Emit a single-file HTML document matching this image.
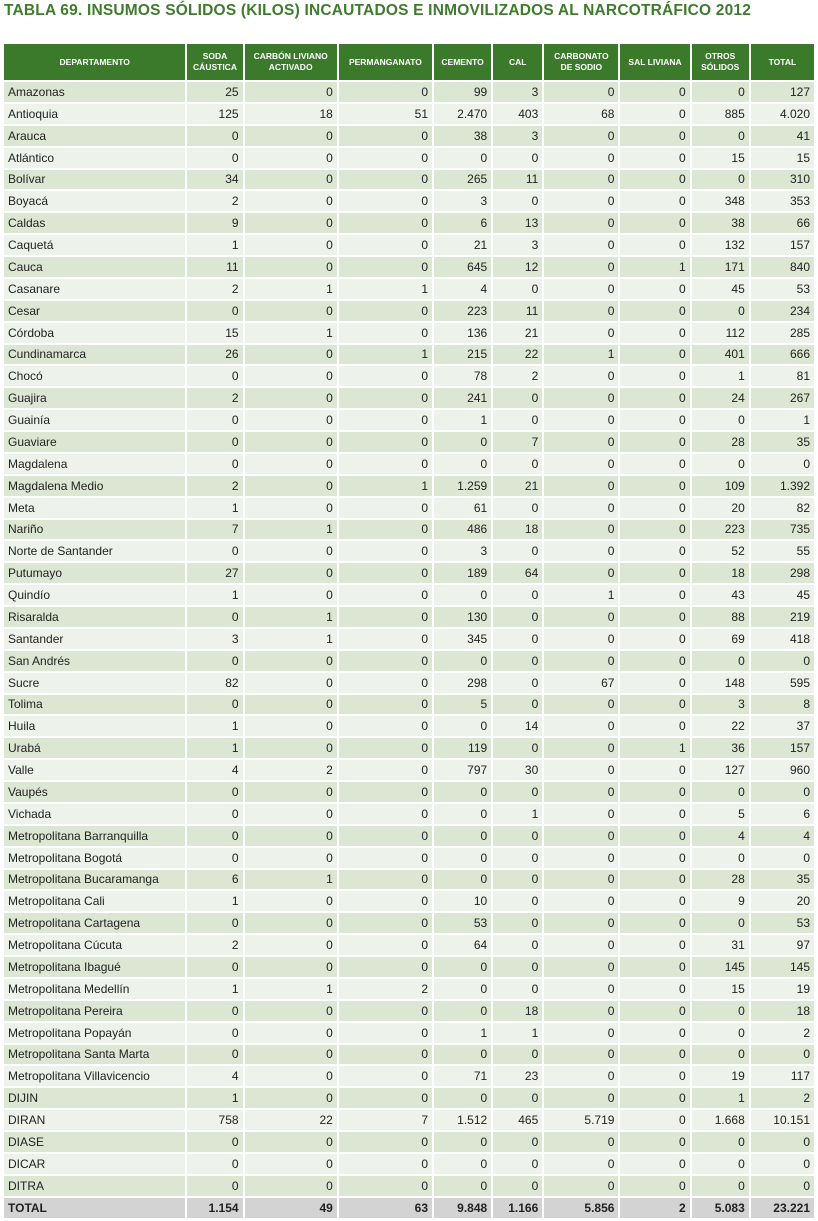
<!DOCTYPE html>
<html><head><meta charset="utf-8"><style>
body{margin:0;width:818px;height:1221px;background:#fff;overflow:hidden;font-family:"Liberation Sans",sans-serif;}
h1{position:absolute;left:4px;top:2px;margin:0;font-size:15.5px;color:#3f7b2c;font-weight:bold;letter-spacing:0.2px;}
table{position:absolute;left:2px;top:42px;border-collapse:separate;border-spacing:2px;table-layout:fixed;width:814px;}
th{background:#3a7a2a;color:#fff;font-size:8.5px;font-weight:bold;height:36px;padding:0;text-align:center;line-height:11px;}
td{height:19.88px;padding:0 4px;font-size:12px;color:#222;text-align:right;white-space:nowrap;overflow:hidden;}
td:first-child{text-align:left;}
tr:nth-child(odd) td{background:#dce7d3;}
tr:nth-child(even) td{background:#edf2ea;}
tr.tot td{background:#d3d3d3;font-weight:bold;}
</style></head><body>
<h1>TABLA 69. INSUMOS SÓLIDOS (KILOS) INCAUTADOS E INMOVILIZADOS AL NARCOTRÁFICO 2012</h1>
<table>
<colgroup><col style="width:181px"><col style="width:55px"><col style="width:92px"><col style="width:93px"><col style="width:57px"><col style="width:49px"><col style="width:74px"><col style="width:69px"><col style="width:57px"><col style="width:63px"></colgroup>
<thead><tr><th>DEPARTAMENTO</th><th>SODA<br>CÁUSTICA</th><th>CARBÓN LIVIANO<br>ACTIVADO</th><th>PERMANGANATO</th><th>CEMENTO</th><th>CAL</th><th>CARBONATO<br>DE SODIO</th><th>SAL LIVIANA</th><th>OTROS<br>SÓLIDOS</th><th>TOTAL</th></tr></thead>
<tbody>
<tr><td>Amazonas</td><td>25</td><td>0</td><td>0</td><td>99</td><td>3</td><td>0</td><td>0</td><td>0</td><td>127</td></tr>
<tr><td>Antioquia</td><td>125</td><td>18</td><td>51</td><td>2.470</td><td>403</td><td>68</td><td>0</td><td>885</td><td>4.020</td></tr>
<tr><td>Arauca</td><td>0</td><td>0</td><td>0</td><td>38</td><td>3</td><td>0</td><td>0</td><td>0</td><td>41</td></tr>
<tr><td>Atlántico</td><td>0</td><td>0</td><td>0</td><td>0</td><td>0</td><td>0</td><td>0</td><td>15</td><td>15</td></tr>
<tr><td>Bolívar</td><td>34</td><td>0</td><td>0</td><td>265</td><td>11</td><td>0</td><td>0</td><td>0</td><td>310</td></tr>
<tr><td>Boyacá</td><td>2</td><td>0</td><td>0</td><td>3</td><td>0</td><td>0</td><td>0</td><td>348</td><td>353</td></tr>
<tr><td>Caldas</td><td>9</td><td>0</td><td>0</td><td>6</td><td>13</td><td>0</td><td>0</td><td>38</td><td>66</td></tr>
<tr><td>Caquetá</td><td>1</td><td>0</td><td>0</td><td>21</td><td>3</td><td>0</td><td>0</td><td>132</td><td>157</td></tr>
<tr><td>Cauca</td><td>11</td><td>0</td><td>0</td><td>645</td><td>12</td><td>0</td><td>1</td><td>171</td><td>840</td></tr>
<tr><td>Casanare</td><td>2</td><td>1</td><td>1</td><td>4</td><td>0</td><td>0</td><td>0</td><td>45</td><td>53</td></tr>
<tr><td>Cesar</td><td>0</td><td>0</td><td>0</td><td>223</td><td>11</td><td>0</td><td>0</td><td>0</td><td>234</td></tr>
<tr><td>Córdoba</td><td>15</td><td>1</td><td>0</td><td>136</td><td>21</td><td>0</td><td>0</td><td>112</td><td>285</td></tr>
<tr><td>Cundinamarca</td><td>26</td><td>0</td><td>1</td><td>215</td><td>22</td><td>1</td><td>0</td><td>401</td><td>666</td></tr>
<tr><td>Chocó</td><td>0</td><td>0</td><td>0</td><td>78</td><td>2</td><td>0</td><td>0</td><td>1</td><td>81</td></tr>
<tr><td>Guajira</td><td>2</td><td>0</td><td>0</td><td>241</td><td>0</td><td>0</td><td>0</td><td>24</td><td>267</td></tr>
<tr><td>Guainía</td><td>0</td><td>0</td><td>0</td><td>1</td><td>0</td><td>0</td><td>0</td><td>0</td><td>1</td></tr>
<tr><td>Guaviare</td><td>0</td><td>0</td><td>0</td><td>0</td><td>7</td><td>0</td><td>0</td><td>28</td><td>35</td></tr>
<tr><td>Magdalena</td><td>0</td><td>0</td><td>0</td><td>0</td><td>0</td><td>0</td><td>0</td><td>0</td><td>0</td></tr>
<tr><td>Magdalena Medio</td><td>2</td><td>0</td><td>1</td><td>1.259</td><td>21</td><td>0</td><td>0</td><td>109</td><td>1.392</td></tr>
<tr><td>Meta</td><td>1</td><td>0</td><td>0</td><td>61</td><td>0</td><td>0</td><td>0</td><td>20</td><td>82</td></tr>
<tr><td>Nariño</td><td>7</td><td>1</td><td>0</td><td>486</td><td>18</td><td>0</td><td>0</td><td>223</td><td>735</td></tr>
<tr><td>Norte de Santander</td><td>0</td><td>0</td><td>0</td><td>3</td><td>0</td><td>0</td><td>0</td><td>52</td><td>55</td></tr>
<tr><td>Putumayo</td><td>27</td><td>0</td><td>0</td><td>189</td><td>64</td><td>0</td><td>0</td><td>18</td><td>298</td></tr>
<tr><td>Quindío</td><td>1</td><td>0</td><td>0</td><td>0</td><td>0</td><td>1</td><td>0</td><td>43</td><td>45</td></tr>
<tr><td>Risaralda</td><td>0</td><td>1</td><td>0</td><td>130</td><td>0</td><td>0</td><td>0</td><td>88</td><td>219</td></tr>
<tr><td>Santander</td><td>3</td><td>1</td><td>0</td><td>345</td><td>0</td><td>0</td><td>0</td><td>69</td><td>418</td></tr>
<tr><td>San Andrés</td><td>0</td><td>0</td><td>0</td><td>0</td><td>0</td><td>0</td><td>0</td><td>0</td><td>0</td></tr>
<tr><td>Sucre</td><td>82</td><td>0</td><td>0</td><td>298</td><td>0</td><td>67</td><td>0</td><td>148</td><td>595</td></tr>
<tr><td>Tolima</td><td>0</td><td>0</td><td>0</td><td>5</td><td>0</td><td>0</td><td>0</td><td>3</td><td>8</td></tr>
<tr><td>Huila</td><td>1</td><td>0</td><td>0</td><td>0</td><td>14</td><td>0</td><td>0</td><td>22</td><td>37</td></tr>
<tr><td>Urabá</td><td>1</td><td>0</td><td>0</td><td>119</td><td>0</td><td>0</td><td>1</td><td>36</td><td>157</td></tr>
<tr><td>Valle</td><td>4</td><td>2</td><td>0</td><td>797</td><td>30</td><td>0</td><td>0</td><td>127</td><td>960</td></tr>
<tr><td>Vaupés</td><td>0</td><td>0</td><td>0</td><td>0</td><td>0</td><td>0</td><td>0</td><td>0</td><td>0</td></tr>
<tr><td>Vichada</td><td>0</td><td>0</td><td>0</td><td>0</td><td>1</td><td>0</td><td>0</td><td>5</td><td>6</td></tr>
<tr><td>Metropolitana Barranquilla</td><td>0</td><td>0</td><td>0</td><td>0</td><td>0</td><td>0</td><td>0</td><td>4</td><td>4</td></tr>
<tr><td>Metropolitana Bogotá</td><td>0</td><td>0</td><td>0</td><td>0</td><td>0</td><td>0</td><td>0</td><td>0</td><td>0</td></tr>
<tr><td>Metropolitana Bucaramanga</td><td>6</td><td>1</td><td>0</td><td>0</td><td>0</td><td>0</td><td>0</td><td>28</td><td>35</td></tr>
<tr><td>Metropolitana Cali</td><td>1</td><td>0</td><td>0</td><td>10</td><td>0</td><td>0</td><td>0</td><td>9</td><td>20</td></tr>
<tr><td>Metropolitana Cartagena</td><td>0</td><td>0</td><td>0</td><td>53</td><td>0</td><td>0</td><td>0</td><td>0</td><td>53</td></tr>
<tr><td>Metropolitana Cúcuta</td><td>2</td><td>0</td><td>0</td><td>64</td><td>0</td><td>0</td><td>0</td><td>31</td><td>97</td></tr>
<tr><td>Metropolitana Ibagué</td><td>0</td><td>0</td><td>0</td><td>0</td><td>0</td><td>0</td><td>0</td><td>145</td><td>145</td></tr>
<tr><td>Metropolitana Medellín</td><td>1</td><td>1</td><td>2</td><td>0</td><td>0</td><td>0</td><td>0</td><td>15</td><td>19</td></tr>
<tr><td>Metropolitana Pereira</td><td>0</td><td>0</td><td>0</td><td>0</td><td>18</td><td>0</td><td>0</td><td>0</td><td>18</td></tr>
<tr><td>Metropolitana Popayán</td><td>0</td><td>0</td><td>0</td><td>1</td><td>1</td><td>0</td><td>0</td><td>0</td><td>2</td></tr>
<tr><td>Metropolitana Santa Marta</td><td>0</td><td>0</td><td>0</td><td>0</td><td>0</td><td>0</td><td>0</td><td>0</td><td>0</td></tr>
<tr><td>Metropolitana Villavicencio</td><td>4</td><td>0</td><td>0</td><td>71</td><td>23</td><td>0</td><td>0</td><td>19</td><td>117</td></tr>
<tr><td>DIJIN</td><td>1</td><td>0</td><td>0</td><td>0</td><td>0</td><td>0</td><td>0</td><td>1</td><td>2</td></tr>
<tr><td>DIRAN</td><td>758</td><td>22</td><td>7</td><td>1.512</td><td>465</td><td>5.719</td><td>0</td><td>1.668</td><td>10.151</td></tr>
<tr><td>DIASE</td><td>0</td><td>0</td><td>0</td><td>0</td><td>0</td><td>0</td><td>0</td><td>0</td><td>0</td></tr>
<tr><td>DICAR</td><td>0</td><td>0</td><td>0</td><td>0</td><td>0</td><td>0</td><td>0</td><td>0</td><td>0</td></tr>
<tr><td>DITRA</td><td>0</td><td>0</td><td>0</td><td>0</td><td>0</td><td>0</td><td>0</td><td>0</td><td>0</td></tr>
<tr class="tot"><td>TOTAL</td><td>1.154</td><td>49</td><td>63</td><td>9.848</td><td>1.166</td><td>5.856</td><td>2</td><td>5.083</td><td>23.221</td></tr>
</tbody></table>
</body></html>
